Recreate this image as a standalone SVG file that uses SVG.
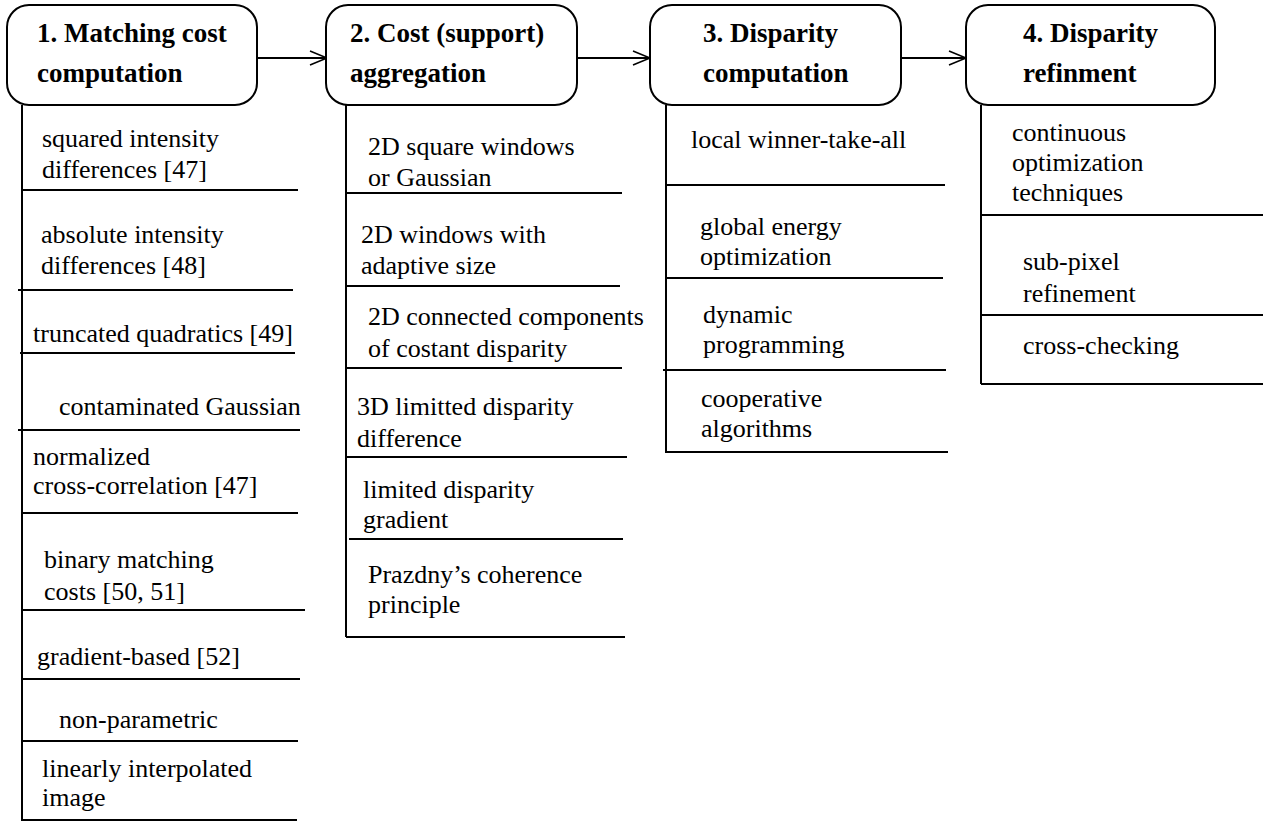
<svg xmlns="http://www.w3.org/2000/svg" width="1272" height="821" viewBox="0 0 1272 821">
<style>
.box{fill:#fff;stroke:#000;stroke-width:2}
.ln{stroke:#000;stroke-width:2;fill:none}
text{font-family:"Liberation Serif","Times New Roman","DejaVu Serif",serif;fill:#000}
.h{font-weight:bold;font-size:27px}
.t{font-size:26px}
</style>
<defs>
<marker id="arr" markerWidth="20" markerHeight="16" refX="18" refY="8" orient="auto" markerUnits="userSpaceOnUse">
<path d="M1,1 L18,8 L1,15" fill="none" stroke="#000" stroke-width="1.6"/>
</marker>
</defs>
<rect width="1272" height="821" fill="#fff"/>
<g id="connectors">
<line class="ln" x1="256" y1="58" x2="327" y2="58" marker-end="url(#arr)"/>
<line class="ln" x1="577" y1="58" x2="650" y2="58" marker-end="url(#arr)"/>
<line class="ln" x1="901" y1="58" x2="966" y2="58" marker-end="url(#arr)"/>
</g>
<g id="node1">
<rect class="box" x="7" y="5" width="250" height="100" rx="22"/>
<text class="h" x="37" y="42">1. Matching cost</text>
<text class="h" x="37" y="82">computation</text>
<line class="ln" x1="22" y1="105" x2="22" y2="821"/>
<text class="t" x="42" y="147">squared intensity</text>
<text class="t" x="42" y="178">differences [47]</text>
<line class="ln" x1="22" y1="190" x2="298" y2="190"/>
<text class="t" x="41" y="243">absolute intensity</text>
<text class="t" x="41" y="274">differences [48]</text>
<line class="ln" x1="18" y1="290" x2="293" y2="290"/>
<text class="t" x="33" y="342">truncated quadratics [49]</text>
<line class="ln" x1="20" y1="353" x2="295" y2="353"/>
<text class="t" x="59" y="415">contaminated Gaussian</text>
<line class="ln" x1="18" y1="430" x2="300" y2="430"/>
<text class="t" x="33" y="465">normalized</text>
<text class="t" x="33" y="494">cross-correlation [47]</text>
<line class="ln" x1="22" y1="513" x2="298" y2="513"/>
<text class="t" x="44" y="568">binary matching</text>
<text class="t" x="44" y="600">costs [50, 51]</text>
<line class="ln" x1="22" y1="610" x2="305" y2="610"/>
<text class="t" x="37" y="665">gradient-based [52]</text>
<line class="ln" x1="22" y1="679" x2="300" y2="679"/>
<text class="t" x="59" y="728">non-parametric</text>
<line class="ln" x1="22" y1="741" x2="298" y2="741"/>
<text class="t" x="42" y="777">linearly interpolated</text>
<text class="t" x="42" y="806">image</text>
<line class="ln" x1="22" y1="820" x2="297" y2="820"/>
</g>
<g id="node2">
<rect class="box" x="326" y="5" width="251" height="100" rx="22"/>
<text class="h" x="350" y="42">2. Cost (support)</text>
<text class="h" x="350" y="82">aggregation</text>
<line class="ln" x1="346" y1="105" x2="346" y2="637"/>
<text class="t" x="368" y="155">2D square windows</text>
<text class="t" x="368" y="186">or Gaussian</text>
<line class="ln" x1="346" y1="193" x2="622" y2="193"/>
<text class="t" x="361" y="243">2D windows with</text>
<text class="t" x="361" y="274">adaptive size</text>
<line class="ln" x1="346" y1="286" x2="620" y2="286"/>
<text class="t" x="368" y="325">2D connected components</text>
<text class="t" x="368" y="357">of costant disparity</text>
<line class="ln" x1="346" y1="368" x2="622" y2="368"/>
<text class="t" x="357" y="415">3D limitted disparity</text>
<text class="t" x="357" y="447">difference</text>
<line class="ln" x1="346" y1="457" x2="627" y2="457"/>
<text class="t" x="363" y="498">limited disparity</text>
<text class="t" x="363" y="528">gradient</text>
<line class="ln" x1="349" y1="539" x2="623" y2="539"/>
<text class="t" x="368" y="583">Prazdny’s coherence</text>
<text class="t" x="368" y="613">principle</text>
<line class="ln" x1="346" y1="637" x2="625" y2="637"/>
</g>
<g id="node3">
<rect class="box" x="650" y="5" width="251" height="100" rx="22"/>
<text class="h" x="703" y="42">3. Disparity</text>
<text class="h" x="703" y="82">computation</text>
<line class="ln" x1="666" y1="105" x2="666" y2="452"/>
<text class="t" x="691" y="148">local winner-take-all</text>
<line class="ln" x1="666" y1="185" x2="945" y2="185"/>
<text class="t" x="700" y="235">global energy</text>
<text class="t" x="700" y="265">optimization</text>
<line class="ln" x1="666" y1="278" x2="943" y2="278"/>
<text class="t" x="703" y="323">dynamic</text>
<text class="t" x="703" y="353">programming</text>
<line class="ln" x1="663" y1="370" x2="946" y2="370"/>
<text class="t" x="701" y="407">cooperative</text>
<text class="t" x="701" y="437">algorithms</text>
<line class="ln" x1="665" y1="452" x2="948" y2="452"/>
</g>
<g id="node4">
<rect class="box" x="966" y="5" width="249" height="100" rx="22"/>
<text class="h" x="1023" y="42">4. Disparity</text>
<text class="h" x="1023" y="82">refinment</text>
<line class="ln" x1="981" y1="105" x2="981" y2="384"/>
<text class="t" x="1012" y="141">continuous</text>
<text class="t" x="1012" y="171">optimization</text>
<text class="t" x="1012" y="201">techniques</text>
<line class="ln" x1="981" y1="215" x2="1263" y2="215"/>
<text class="t" x="1023" y="270">sub-pixel</text>
<text class="t" x="1023" y="302">refinement</text>
<line class="ln" x1="981" y1="315" x2="1263" y2="315"/>
<text class="t" x="1023" y="354">cross-checking</text>
<line class="ln" x1="981" y1="384" x2="1263" y2="384"/>
</g>
</svg>
